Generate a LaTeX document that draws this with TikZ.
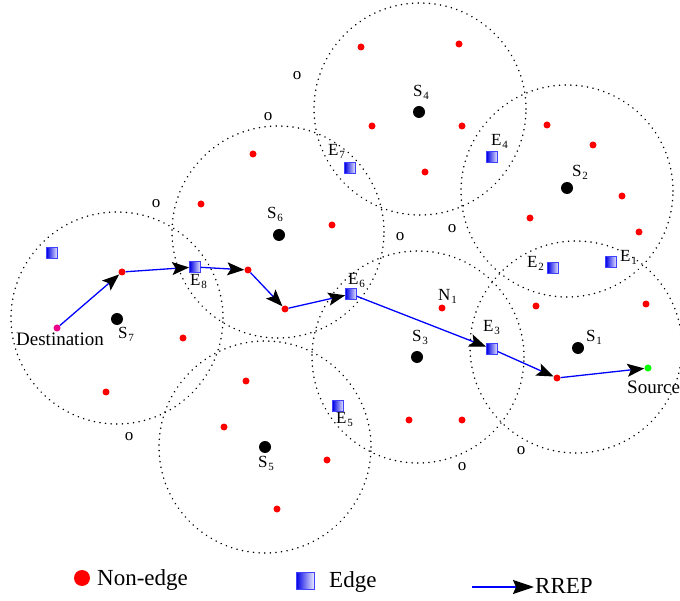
\documentclass[tikz,border=0pt]{standalone}
\usepackage{fontspec}
\setmainfont{Liberation Serif}
\usetikzlibrary{arrows.meta,shadings}
\newcommand\sublab[2]{{\fontsize{17}{18}\selectfont #1}\kern0.8pt\raisebox{-3pt}{\fontsize{11}{12}\selectfont #2}}
\tikzset{
  zone/.style={draw=black, line width=1.7pt, dash pattern=on 0.01pt off 5.6pt, line cap=round},
  nonedge/.style={circle, fill=red, inner sep=0pt, minimum size=7pt},
  sink/.style={circle, fill=black, inner sep=0pt, minimum size=12pt},
  edgebox/.style={rectangle, inner sep=0pt, minimum size=11pt, left color=blue!90!black, right color=blue!8, draw=blue!75, line width=0.6pt},
  endpt/.style={circle, inner sep=0pt, minimum size=7pt},
  lbl/.style={anchor=base west, inner sep=0pt, text=black},
  bigtxt/.style={anchor=base west, inner sep=0pt, font=\fontsize{19}{21}\selectfont},
  legtxt/.style={anchor=base west, inner sep=0pt, font=\fontsize{23}{25}\selectfont},
  hollow/.style={inner sep=0pt, font=\fontsize{17}{18}\selectfont},
  rrep/.style={draw=blue, line width=1.3pt, -{Stealth[length=17pt,width=13pt,inset=3.5pt,color=black]}},
  legrrep/.style={draw=blue, line width=1.7pt, -{Stealth[length=21pt,width=14pt,inset=3pt,color=black]}}
}
\begin{document}
\begin{tikzpicture}[x=1pt,y=-1pt]
\useasboundingbox (0,0) rectangle (680,601);
% zones
\draw[zone] (117,318) circle (106pt);
\draw[zone] (278,232) circle (106pt);
\draw[zone] (420,109) circle (106pt);
\draw[zone] (567,191) circle (106pt);
\draw[zone] (418,357) circle (106pt);
\draw[zone] (576,347) circle (106pt);
\draw[zone] (265,447) circle (106pt);
% sinks
\node[sink] (s7) at (117,319) {};
\node[sink] (s6) at (279,235) {};
\node[sink] (s4) at (419,112) {};
\node[sink] (s2) at (567,188) {};
\node[sink] (s3) at (417,357) {};
\node[sink] (s1) at (578,348) {};
\node[sink] (s5) at (265,447) {};
\node[lbl] (ls7) at (118,339) {\sublab{S}{7}};
\node[lbl] (ls6) at (267,219) {\sublab{S}{6}};
\node[lbl] (ls4) at (413,97) {\sublab{S}{4}};
\node[lbl] (ls2) at (572,177) {\sublab{S}{2}};
\node[lbl] (ls3) at (412,342) {\sublab{S}{3}};
\node[lbl] (ls1) at (586,342) {\sublab{S}{1}};
\node[lbl] (ls5) at (258,467) {\sublab{S}{5}};
% non-edge nodes
\node[nonedge] (p1) at (122,272) {};
\node[nonedge] (n2) at (183,338) {};
\node[nonedge] (n3) at (106,392) {};
\node[nonedge] (n4) at (253,154) {};
\node[nonedge] (n5) at (201,204) {};
\node[nonedge] (n6) at (332,225) {};
\node[nonedge] (p2) at (248,270) {};
\node[nonedge] (p3) at (285,309) {};
\node[nonedge] (n9) at (361,47) {};
\node[nonedge] (n10) at (459,44) {};
\node[nonedge] (n11) at (372,126) {};
\node[nonedge] (n12) at (462,126) {};
\node[nonedge] (n13) at (425,172) {};
\node[nonedge] (n14) at (547,125) {};
\node[nonedge] (n15) at (593,145) {};
\node[nonedge] (n16) at (622,196) {};
\node[nonedge] (n17) at (530,218) {};
\node[nonedge] (n18) at (639,232) {};
\node[nonedge] (n19) at (536,306) {};
\node[nonedge] (n20) at (646,304) {};
\node[nonedge] (p4) at (557,378) {};
\node[nonedge] (n22) at (462,420) {};
\node[nonedge] (n23) at (409,420) {};
\node[nonedge] (nn1) at (442,308) {};
\node[nonedge] (n25) at (246,381) {};
\node[nonedge] (n26) at (224,427) {};
\node[nonedge] (n27) at (327,460) {};
\node[nonedge] (n28) at (277,509) {};
\node[lbl] (lnn1) at (438,301) {\sublab{N}{1}};
% edge nodes
\node[edgebox] (e8) at (195,267) {};
\node[edgebox] (e7) at (350,168) {};
\node[edgebox] (e4) at (492,157) {};
\node[edgebox] (e6) at (351,294) {};
\node[edgebox] (e3) at (492,349) {};
\node[edgebox] (e2) at (553,268) {};
\node[edgebox] (e1) at (611,262) {};
\node[edgebox] (e5) at (338,406) {};
\node[edgebox] (e0) at (52,253) {};
\node[lbl] (le8) at (190,286) {\sublab{E}{8}};
\node[lbl] (le7) at (328,156) {\sublab{E}{7}};
\node[lbl] (le4) at (491,146) {\sublab{E}{4}};
\node[lbl] (le6) at (348,285) {\sublab{E}{6}};
\node[lbl] (le3) at (483,332) {\sublab{E}{3}};
\node[lbl] (le2) at (527,268) {\sublab{E}{2}};
\node[lbl] (le1) at (620,262) {\sublab{E}{1}};
\node[lbl] (le5) at (336,423) {\sublab{E}{5}};
% hollow markers
\node[hollow] (o1) at (297,76) {o};
\node[hollow] (o2) at (268,117) {o};
\node[hollow] (o3) at (156,204) {o};
\node[hollow] (o4) at (452,229) {o};
\node[hollow] (o5) at (400,237) {o};
\node[hollow] (o6) at (129,437) {o};
\node[hollow] (o7) at (462,467) {o};
\node[hollow] (o8) at (521,451) {o};
% destination & source
\node[endpt, fill=magenta] (dst) at (57,328) {};
\node[endpt, fill=green] (src) at (648,368) {};
\node[bigtxt] (ldst) at (16,346) {Destination};
\node[bigtxt] (lsrc) at (627,394) {Source};
% route
\draw[rrep] (dst) -- (p1);
\draw[rrep] (p1) -- (e8);
\draw[rrep] (e8) -- (p2);
\draw[rrep] (p2) -- (p3);
\draw[rrep] (p3) -- (e6);
\draw[rrep] (e6) -- (e3);
\draw[rrep] (e3) -- (p4);
\draw[rrep] (p4) -- (src);
% legend
\node[nonedge, minimum size=16pt] (lgdot) at (82,578) {};
\node[legtxt] (lgne) at (97,585) {Non-edge};
\node[edgebox, minimum width=18pt, minimum height=17pt] (lgbox) at (305,581) {};
\node[legtxt] (lged) at (329,587) {Edge};
\coordinate (la) at (472,587);
\coordinate (lb) at (534,587);
\draw[legrrep] (la) -- (lb);
\node[legtxt] (lgr) at (535,593) {RREP};
\end{tikzpicture}
\end{document}
